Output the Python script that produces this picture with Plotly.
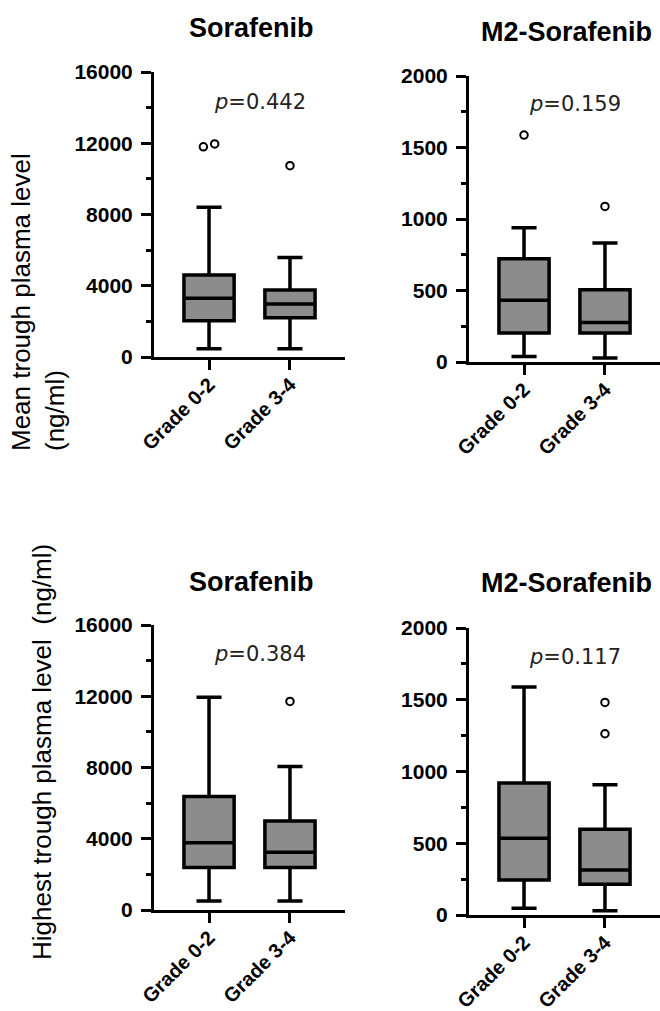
import plotly.graph_objects as go

W, H = 660, 1011

categories = ["Grade 0-2", "Grade 3-4"]
panel_titles = ["Sorafenib", "M2-Sorafenib", "Sorafenib", "M2-Sorafenib"]
p_values = ["0.442", "0.159", "0.384", "0.117"]
y_max = [16000, 2000, 16000, 2000]
y_dtick = [4000, 500, 4000, 500]

# Mean trough plasma level - Sorafenib
mean_sor_q1 = [2040, 2210]
mean_sor_median = [3300, 2980]
mean_sor_q3 = [4600, 3760]
mean_sor_lower = [470, 470]
mean_sor_upper = [8400, 5580]
mean_sor_outliers = [[11800, 11960], [10740]]

# Mean trough plasma level - M2-Sorafenib
mean_m2_q1 = [203, 203]
mean_m2_median = [431, 277]
mean_m2_q3 = [722, 506]
mean_m2_lower = [39, 28]
mean_m2_upper = [939, 832]
mean_m2_outliers = [[1587], [1088]]

# Highest trough plasma level - Sorafenib
high_sor_q1 = [2380, 2380]
high_sor_median = [3780, 3240]
high_sor_q3 = [6370, 5000]
high_sor_lower = [506, 506]
high_sor_upper = [11950, 8050]
high_sor_outliers = [[], [11710]]

# Highest trough plasma level - M2-Sorafenib
high_m2_q1 = [244, 214]
high_m2_median = [535, 314]
high_m2_q3 = [919, 598]
high_m2_lower = [47, 30]
high_m2_upper = [1588, 907]
high_m2_outliers = [[], [1481, 1263]]

panels = [
    (mean_sor_q1, mean_sor_median, mean_sor_q3, mean_sor_lower, mean_sor_upper, mean_sor_outliers),
    (mean_m2_q1, mean_m2_median, mean_m2_q3, mean_m2_lower, mean_m2_upper, mean_m2_outliers),
    (high_sor_q1, high_sor_median, high_sor_q3, high_sor_lower, high_sor_upper, high_sor_outliers),
    (high_m2_q1, high_m2_median, high_m2_q3, high_m2_lower, high_m2_upper, high_m2_outliers),
]

# plot-area pixel boxes: (left, right, top, bottom)
boxes_px = [(154, 345, 72, 357), (469, 660, 76, 362), (154, 345, 625, 910), (469, 660, 628, 915)]
title_px = [(251, 28), (566, 32), (251, 582), (566, 583)]
pval_px = [(260, 102), (575, 104), (260, 654), (575, 657)]

FONT = "Arial, Liberation Sans, sans-serif"
fig = go.Figure()

xs = list(range(len(categories)))
for i, (q1, med, q3, lo, hi, outs) in enumerate(panels):
    ax = "" if i == 0 else str(i + 1)
    fig.add_trace(go.Box(
        x=xs, q1=q1, median=med, q3=q3, lowerfence=lo, upperfence=hi,
        boxpoints=False, width=0.62, whiskerwidth=0.5,
        fillcolor="#8c8c8c", line=dict(color="black", width=3.5),
        xaxis="x" + ax, yaxis="y" + ax, showlegend=False, hoverinfo="skip",
    ))
    ox, oy = [], []
    for g, vals in enumerate(outs):
        vs = sorted(vals)
        close = len(vs) > 1 and (vs[-1] - vs[0]) < 0.05 * y_max[i]
        for k, v in enumerate(vs):
            off = (k - (len(vs) - 1) / 2) * 0.14 if close else 0
            ox.append(g + off)
            oy.append(v)
    if ox:
        fig.add_trace(go.Scatter(
            x=ox, y=oy, mode="markers",
            marker=dict(symbol="circle", size=7.5, color="white", line=dict(color="black", width=2)),
            xaxis="x" + ax, yaxis="y" + ax, showlegend=False, hoverinfo="skip",
            cliponaxis=False,
        ))

    l, r, t, b = boxes_px[i]
    fig.layout["xaxis" + ax] = dict(
        domain=[l / W, r / W], anchor="y" + ax, range=[-0.68, 1.68],
        tickvals=xs, ticktext=categories, tickangle=-45,
        tickfont=dict(family=FONT, size=20, color="black", weight="bold"),
        showline=True, linecolor="black", linewidth=3,
        ticks="outside", ticklen=10, tickwidth=3, tickcolor="black",
        showgrid=False, zeroline=False, automargin=False, ticklabelstandoff=-5,
    )
    fig.layout["yaxis" + ax] = dict(
        domain=[1 - b / H, 1 - t / H], anchor="x" + ax, range=[0, y_max[i]],
        dtick=y_dtick[i], tick0=0, tickformat="d",
        tickfont=dict(family=FONT, size=21, color="black", weight="bold"),
        showline=True, linecolor="black", linewidth=3,
        ticks="outside", ticklen=10, tickwidth=3, tickcolor="black",
        minor=dict(ticks="outside", ticklen=5, tickwidth=3, tickcolor="black",
                   dtick=y_dtick[i] / 2, showgrid=False),
        showgrid=False, zeroline=False, ticklabelstandoff=4, automargin=False,
    )

    tx, ty = title_px[i]
    fig.add_annotation(x=tx / W, y=1 - ty / H, xref="paper", yref="paper",
                       text="<b>" + panel_titles[i] + "</b>", showarrow=False,
                       xanchor="center", yanchor="middle",
                       font=dict(family=FONT, size=27, color="black"))
    px_, py_ = pval_px[i]
    fig.add_annotation(x=px_ / W, y=1 - py_ / H, xref="paper", yref="paper",
                       text="<i>p</i>=" + p_values[i], showarrow=False,
                       xanchor="center", yanchor="middle",
                       font=dict(family="DejaVu Sans, sans-serif", size=21, color="#222222"))

fig.add_annotation(x=38 / W, y=1 - 302 / H, xref="paper", yref="paper",
                   text="Mean trough plasma level<br>(ng/ml)", showarrow=False,
                   textangle=-90, align="left", xanchor="center", yanchor="middle",
                   font=dict(family=FONT, size=26, color="black"))
fig.add_annotation(x=42 / W, y=1 - 752 / H, xref="paper", yref="paper",
                   text="Highest trough plasma level  (ng/ml)", showarrow=False,
                   textangle=-90, xanchor="center", yanchor="middle",
                   font=dict(family=FONT, size=26, color="black"))

fig.update_layout(
    width=W, height=H, margin=dict(l=0, r=0, t=0, b=0, autoexpand=False),
    paper_bgcolor="white", plot_bgcolor="white",
)

fig.write_html(
    "out.html",
    config={"displayModeBar": False},
    post_script="document.body.style.margin='0';document.body.style.overflow='hidden';",
)
